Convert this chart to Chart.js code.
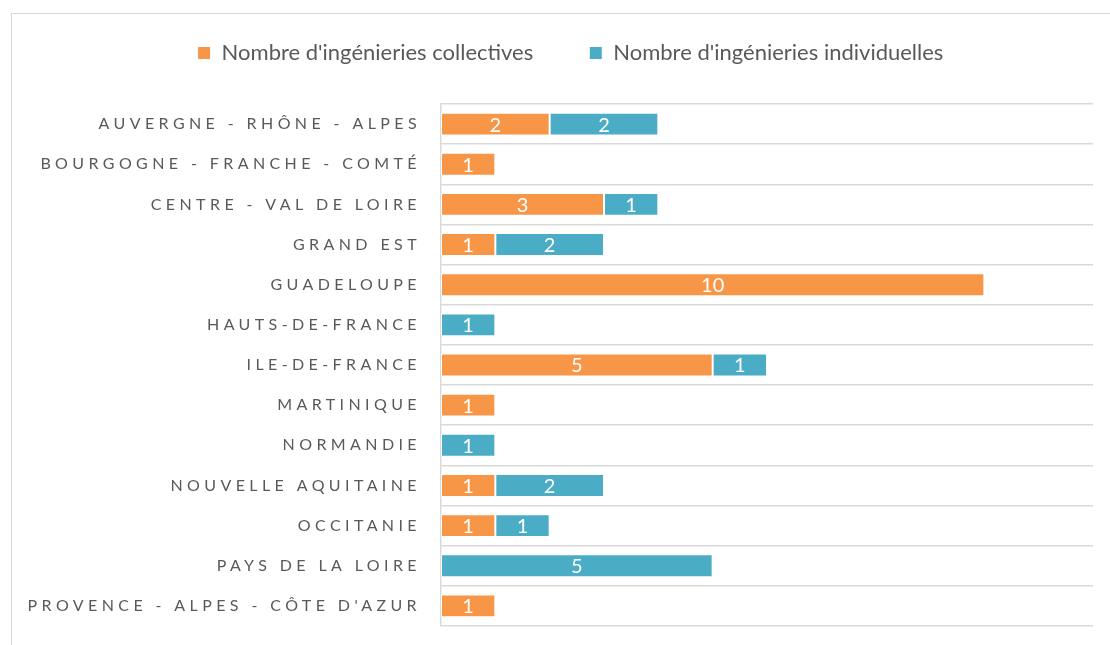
<!DOCTYPE html>
<html>
<head>
<meta charset="utf-8">
<script src="https://cdn.jsdelivr.net/npm/chart.js@4/dist/chart.umd.min.js"></script>
<style>
  html, body { margin: 0; padding: 0; background: #ffffff; }
  #wrap { position: absolute; left: 0; top: 0; width: 1110px; height: 645px; }
  #frame { position: absolute; left: 11px; top: 13px; width: 1200px; height: 700px;
           border-left: 1.5px solid #d9d9d9; border-top: 1.5px solid #d9d9d9; }
</style>
</head>
<body>
<div id="frame"></div>
<div id="wrap"><canvas id="c" width="1110" height="645"></canvas></div>
<script>
const categories = [
  "AUVERGNE - RHÔNE - ALPES",
  "BOURGOGNE - FRANCHE - COMTÉ",
  "CENTRE - VAL DE LOIRE",
  "GRAND EST",
  "GUADELOUPE",
  "HAUTS-DE-FRANCE",
  "ILE-DE-FRANCE",
  "MARTINIQUE",
  "NORMANDIE",
  "NOUVELLE AQUITAINE",
  "OCCITANIE",
  "PAYS DE LA LOIRE",
  "PROVENCE - ALPES - CÔTE D'AZUR"
];
const seriesNames = ["Nombre d'ingénieries collectives", "Nombre d'ingénieries individuelles"];
const collectives  = [2, 1, 3, 1, 10, null, 5, 1, null, 1, 1, null, 1];
const individuelles = [2, null, 1, 2, null, 1, 1, null, 1, 2, 1, 5, null];
const xMin = 0, xMax = 12;

const FONT = "Lato";
const LETTER_SPACING = "4.4px";

const valueLabels = {
  id: 'valueLabels',
  afterLayout(chart) {
    // centre the legend over the same span as the reference
    if (chart.legend) { chart.legend.left += 28; }
  },
  beforeDraw(chart) { chart.ctx.letterSpacing = '0px'; },
  afterDatasetsDraw(chart) {
    const ctx = chart.ctx;
    ctx.save();
    ctx.fillStyle = '#ffffff';
    ctx.font = '20px ' + FONT;
    ctx.textAlign = 'center';
    ctx.textBaseline = 'middle';
    chart.data.datasets.forEach((ds, di) => {
      const meta = chart.getDatasetMeta(di);
      meta.data.forEach((el, i) => {
        const v = ds.data[i];
        if (v === null || v === undefined) return;
        const p = el.getCenterPoint();
        ctx.fillText(String(v), p.x, p.y + 1);
      });
    });
    ctx.restore();
    // y-axis labels (z:1) are drawn after this point, with letter spacing
    ctx.letterSpacing = LETTER_SPACING;
  },
  afterDraw(chart) { chart.ctx.letterSpacing = '0px'; }
};

new Chart(document.getElementById('c'), {
  type: 'bar',
  data: {
    labels: categories,
    datasets: [
      { label: seriesNames[0], data: collectives, backgroundColor: '#F79646',
        borderColor: '#ffffff', borderWidth: 1, borderSkipped: false },
      { label: seriesNames[1], data: individuelles, backgroundColor: '#4BACC6',
        borderColor: '#ffffff', borderWidth: 1, borderSkipped: false }
    ]
  },
  options: {
    indexAxis: 'y',
    responsive: false,
    animation: false,
    devicePixelRatio: 1,
    layout: { padding: { left: 20, right: 17, top: -14, bottom: 19 } },
    datasets: { bar: { categoryPercentage: 1, barPercentage: 0.57 } },
    plugins: {
      legend: {
        position: 'top',
        align: 'center',
        labels: {
          boxWidth: 13, boxHeight: 13, padding: 56,
          color: '#595959',
          font: { family: FONT, size: 22 }
        }
      },
      tooltip: { enabled: false }
    },
    scales: {
      x: {
        position: 'top',
        stacked: true,
        min: xMin, max: xMax,
        grid: { display: false },
        border: { display: false },
        ticks: { display: false },
        afterFit(s) { s.height = 30; }
      },
      y: {
        stacked: true,
        grid: { color: '#d9d9d9', lineWidth: 1.5, drawTicks: false, offset: true },
        border: { color: '#d9d9d9', width: 1.5 },
        ticks: { color: '#595959', font: { family: FONT, size: 16 }, padding: 20, z: 1 },
        afterFit(s) { s.width = 421; s.paddingTop = 0; s.paddingBottom = 0; }
      }
    }
  },
  plugins: [valueLabels]
});
</script>
</body>
</html>
